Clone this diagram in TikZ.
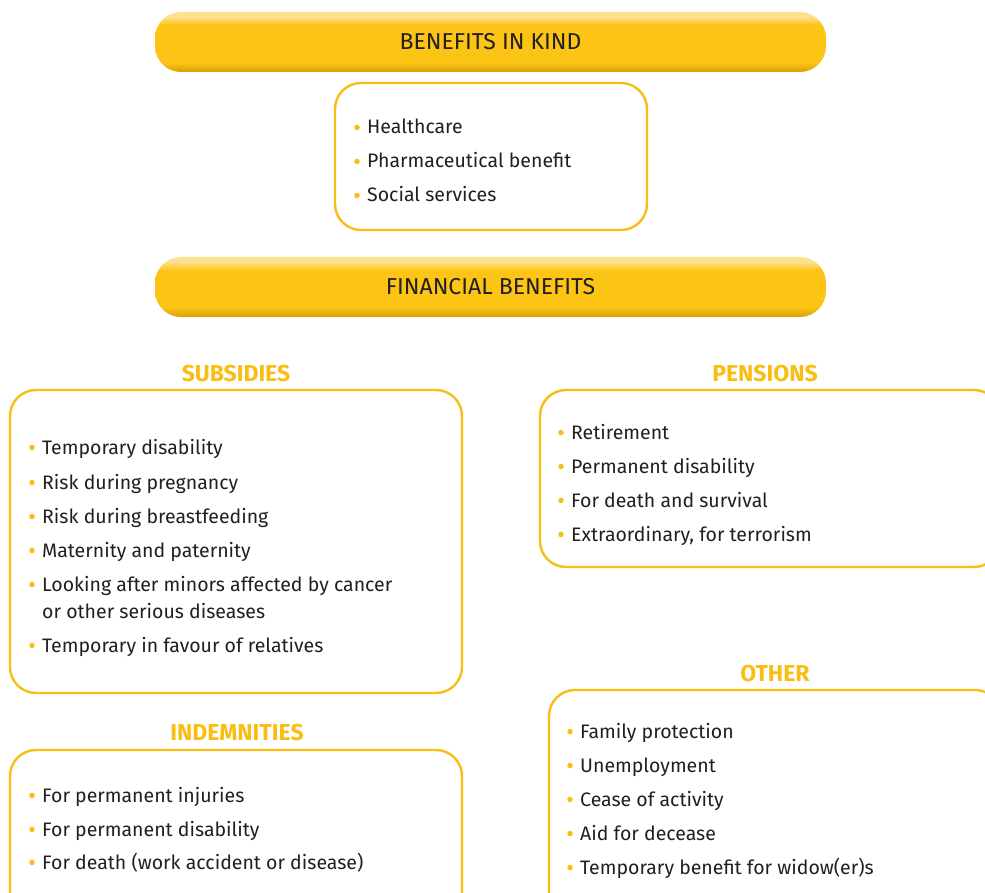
\documentclass[tikz,border=0pt]{standalone}
\usepackage{fontspec}
\setmainfont{Fira Sans}
\definecolor{gold}{HTML}{F9BE14}
\definecolor{head}{HTML}{FABD12}
\definecolor{txt}{HTML}{231F20}
\definecolor{bard}{HTML}{D6A00A}
\definecolor{barm}{HTML}{FCC414}
\definecolor{barl}{HTML}{FEE190}
\pgfdeclareverticalshading{barshade}{100bp}{color(0bp)=(bard); color(25bp)=(bard); color(33bp)=(barm); color(64bp)=(barm); color(71bp)=(barl); color(75bp)=(barl); color(100bp)=(barl)}
\tikzset{
  bar/.style={shade, shading=barshade, rounded corners=26pt, minimum width=671pt, minimum height=60pt, inner sep=0pt, font=\fontsize{23}{26}\selectfont, text=txt},
  box/.style={draw=gold, line width=2.4pt, rounded corners=26pt, inner sep=0pt},
  heading/.style={font=\fontsize{23}{26}\selectfont\bfseries, text=head, anchor=base},
  item/.style={font=\fontsize{19.5}{23}\selectfont, text=txt, anchor=base west, inner sep=0pt},
  dot/.style={circle, fill=gold, inner sep=0pt, minimum size=5.5pt}
}
\newcommand{\itm}[4]{%
  \node[item] (#1) at (#2,#3) {#4};
  \node[dot] (#1d) at ($(#1.base west)+(-10,-6.5)$) {};
}
\usetikzlibrary{calc}
\begin{document}
\begin{tikzpicture}[x=1pt,y=-1pt]
\useasboundingbox (0,0) rectangle (985,893);
\clip (0,0) rectangle (985,893);
\fill[white] (0,0) rectangle (985,893);

% Benefits in kind
\node[bar] (kind) at (490.5,42) {BENEFITS IN KIND};
\node[box, minimum width=312pt, minimum height=147pt] (kindbox) at (491,156.5) {};
\itm{hc}{367}{134}{Healthcare}
\itm{ph}{367}{168}{Pharmaceutical benefit}
\itm{ss}{367}{202}{Social services}

% Financial
\node[bar] (fin) at (490.5,287) {FINANCIAL BENEFITS};

% Subsidies
\node[heading] (subh) at (236,381) {SUBSIDIES};
\node[box, minimum width=452pt, minimum height=303pt] (subbox) at (236,541.5) {};
\itm{s1}{42}{454}{Temporary disability}
\itm{s2}{42}{489}{Risk during pregnancy}
\itm{s3}{42}{523}{Risk during breastfeeding}
\itm{s4}{42}{557}{Maternity and paternity}
\itm{s5}{42}{591}{Looking after minors affected by cancer}
\node[item] (s5b) at (42,618) {or other serious diseases};
\itm{s6}{42}{652}{Temporary in favour of relatives}

% Pensions
\node[heading] (penh) at (765,381) {PENSIONS};
\node[box, minimum width=460pt, minimum height=177pt] (penbox) at (770,478.5) {};
\itm{p1}{571}{439}{Retirement}
\itm{p2}{571}{473}{Permanent disability}
\itm{p3}{571}{507}{For death and survival}
\itm{p4}{571}{541}{Extraordinary, for terrorism}

% Other
\node[heading] (othh) at (775,681) {OTHER};
\node[box, minimum width=452pt, minimum height=240pt] (othbox) at (775,810) {};
\itm{o1}{580}{738}{Family protection}
\itm{o2}{580}{772}{Unemployment}
\itm{o3}{580}{806}{Cease of activity}
\itm{o4}{580}{840}{Aid for decease}
\itm{o5}{580}{874}{Temporary benefit for widow(er)s}

% Indemnities
\node[heading] (indh) at (237,740) {INDEMNITIES};
\node[box, minimum width=452pt, minimum height=180pt] (indbox) at (236,840) {};
\itm{i1}{42}{802}{For permanent injuries}
\itm{i2}{42}{836}{For permanent disability}
\itm{i3}{42}{869}{For death (work accident or disease)}
\end{tikzpicture}
\end{document}
